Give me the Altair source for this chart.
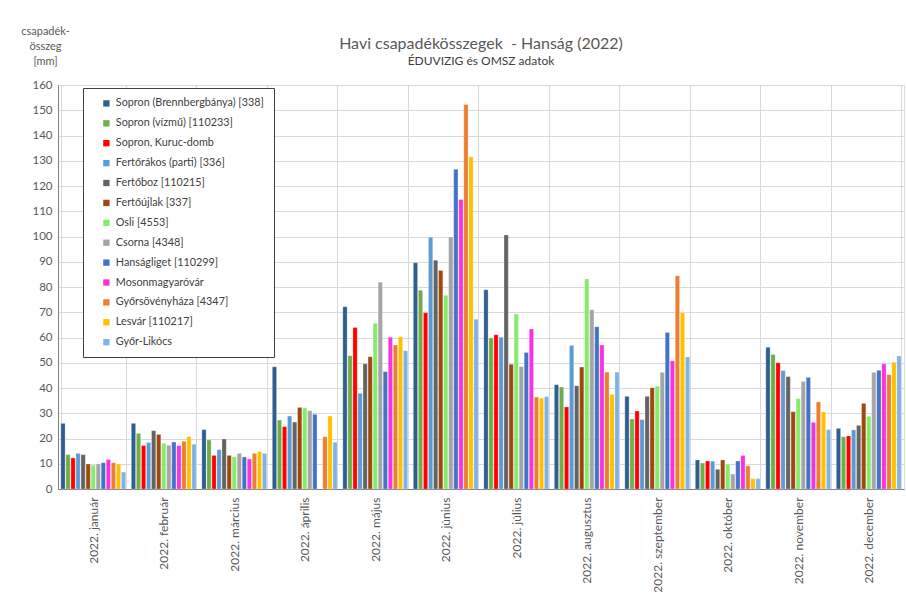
import altair as alt
import pandas as pd

# Monthly precipitation totals (mm), 2022, per station
months = [
    "2022. január", "2022. február", "2022. március", "2022. április",
    "2022. május", "2022. június", "2022. július", "2022. augusztus",
    "2022. szeptember", "2022. október", "2022. november", "2022. december",
]

stations = [
    "Sopron (Brennbergbánya) [338]",
    "Sopron (vízmű) [110233]",
    "Sopron, Kuruc-domb",
    "Fertőrákos (parti) [336]",
    "Fertőboz [110215]",
    "Fertőújlak [337]",
    "Osli [4553]",
    "Csorna [4348]",
    "Hanságliget [110299]",
    "Mosonmagyaróvár",
    "Győrsövényháza [4347]",
    "Lesvár [110217]",
    "Győr-Likócs",
]

colors = [
    "#2e5f8f", "#70ad47", "#ff0000", "#5b9bd5", "#636363", "#9e480e",
    "#86ea6a", "#a5a5a5", "#4472c4", "#f533e3", "#ed7d31", "#ffc000",
    "#7fb2e5",
]

brennberg = [26.0, 26.0, 23.5, 48.4, 72.2, 89.6, 78.9, 41.3, 36.7, 11.5, 56.1, 24.0]
sopron_vizmu = [13.6, 22.0, 19.4, 27.3, 52.8, 78.7, 59.8, 40.4, 27.7, 10.3, 53.3, 20.7]
kuruc_domb = [12.3, 17.2, 13.3, 24.7, 64.0, 69.8, 61.1, 32.5, 30.9, 11.1, 50.0, 21.0]
fertorakos = [14.1, 18.4, 15.6, 28.9, 37.9, 99.7, 60.1, 56.8, 27.5, 11.0, 46.9, 23.4]
ferttoboz = [13.6, 23.1, 19.8, 26.5, 49.6, 90.6, 100.6, 40.9, 36.7, 7.8, 44.5, 25.2]
fertoujlak = [9.9, 21.6, 13.3, 32.3, 52.4, 86.5, 49.4, 48.3, 40.1, 11.5, 30.6, 33.9]
osli = [9.4, 18.1, 12.8, 32.1, 65.6, 76.7, 69.3, 83.2, 40.7, 9.8, 35.8, 28.8]
csorna = [9.9, 17.3, 14.1, 31.0, 81.9, 99.8, 48.5, 71.0, 46.2, 5.9, 42.6, 46.2]
hansagliget = [10.4, 18.6, 12.7, 29.6, 46.5, 126.6, 54.1, 64.3, 62.0, 11.1, 44.2, 47.0]
mosonmagyarovar = [11.7, 17.2, 11.9, None, 60.1, 114.7, 63.4, 57.0, 50.8, 13.3, 26.4, 49.6]
gyorsovenyhaza = [10.4, 18.9, 14.1, 20.7, 57.0, 152.3, 36.4, 46.3, 84.5, 9.2, 34.5, 45.3]
lesvar = [9.9, 20.7, 14.8, 28.9, 60.3, 131.6, 36.0, 37.5, 69.8, 4.1, 30.5, 50.2]
gyor_likocs = [6.7, 17.7, 14.1, 18.5, 54.8, 67.2, 36.6, 46.3, 52.3, 4.1, 23.5, 52.7]

series = [
    brennberg, sopron_vizmu, kuruc_domb, fertorakos, ferttoboz, fertoujlak,
    osli, csorna, hansagliget, mosonmagyarovar, gyorsovenyhaza, lesvar,
    gyor_likocs,
]

rows = []
for station, values in zip(stations, series):
    for month, v in zip(months, values):
        if v is not None:
            rows.append({"honap": month, "allomas": station, "mm": v})
df = pd.DataFrame(rows)

FONT = "Lato"
GREY = "#595959"

chart = (
    alt.Chart(df)
    .mark_bar(stroke="white", strokeWidth=0.4, strokeOpacity=0.7)
    .encode(
        x=alt.X(
            "honap:N",
            sort=months,
            scale=alt.Scale(paddingInner=0.08, paddingOuter=0.04),
            axis=alt.Axis(
                title=None,
                labelAngle=270,
                labelAlign="right",
                labelBaseline="middle",
                labelPadding=8,
                labelFontSize=12,
                labelColor=GREY,
                labelFont=FONT,
                tickBand="extent",
                ticks=False,
                grid=True,
                gridColor="#d9d9d9",
                domainColor="#7f7f7f",
            ),
        ),
        xOffset=alt.XOffset("allomas:N", sort=stations, scale=alt.Scale(paddingInner=0.15)),
        y=alt.Y(
            "mm:Q",
            scale=alt.Scale(domain=[0, 160], nice=False),
            axis=alt.Axis(
                values=list(range(0, 161, 10)),
                title=["csapadék-", "összeg", "[mm]"],
                titleAngle=0,
                titleAlign="center",
                titleBaseline="top",
                titleX=-13,
                titleY=-60,
                titleFontSize=11,
                titleFontWeight="normal",
                titleLineHeight=15,
                titleColor=GREY,
                titleFont=FONT,
                labelFontSize=11.5,
                labelColor=GREY,
                labelFont=FONT,
                labelPadding=6,
                ticks=False,
                grid=True,
                gridColor="#d9d9d9",
                domainColor="#7f7f7f",
            ),
        ),
        color=alt.Color(
            "allomas:N",
            sort=stations,
            scale=alt.Scale(domain=stations, range=colors),
            legend=alt.Legend(
                title=None,
                orient="none",
                legendX=25,
                legendY=3,
                direction="vertical",
                fillColor="white",
                strokeColor="#404040",
                padding=10,
                symbolType="square",
                symbolSize=40,
                symbolStrokeWidth=0,
                labelFontSize=10.8,
                labelFont=FONT,
                labelColor="#404040",
                labelLimit=300,
                rowPadding=7.9,
                symbolOffset=8,
            ),
        ),
    )
    .properties(
        width=846,
        height=404,
        autosize=alt.AutoSizeParams(type="none"),
        padding={"left": 58, "top": 85, "right": 2, "bottom": 111},
        title=alt.TitleParams(
            text="Havi csapadékösszegek\u00a0 - Hanság (2022)",
            subtitle="ÉDUVIZIG és OMSZ adatok",
            anchor="middle",
            fontSize=16,
            fontWeight="normal",
            font=FONT,
            color=GREY,
            subtitleFontSize=12,
            subtitleFont=FONT,
            subtitleColor="#404040",
            subtitlePadding=4,
            offset=-42,
        ),
    )
    .configure_view(stroke="transparent")
    .configure(background="white")
)

chart.save("out.html", embed_options={"renderer": "svg", "actions": False})
